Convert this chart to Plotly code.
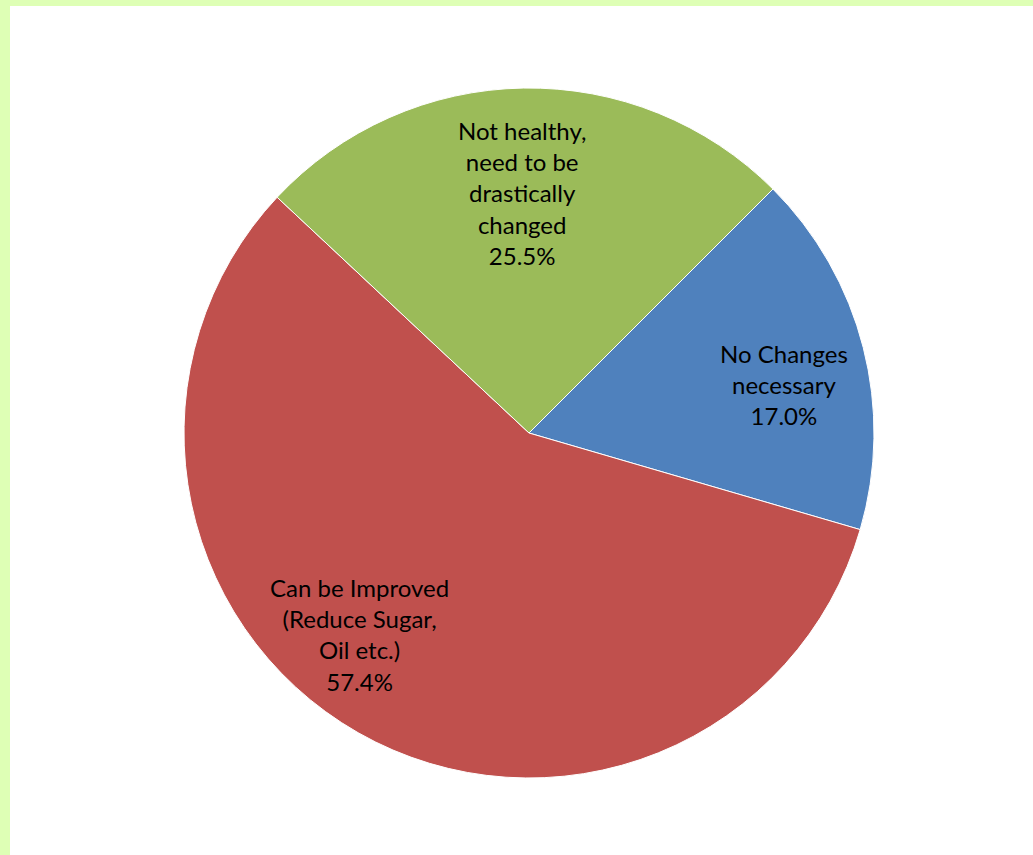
import math
import plotly.graph_objects as go

labels = ["No Changes<br>necessary", "Can be Improved<br>(Reduce Sugar,<br>Oil etc.)", "Not healthy,<br>need to be<br>drastically<br>changed"]
values = [17.0, 57.4, 25.5]
colors = ["#4F81BD", "#C0504D", "#9BBB59"]

W, H = 1033, 855
cx, cy, r = 529, 433, 345
rotation = 45
# label placement tweaks (fraction of radius, angular shift in degrees)
label_rad = [0.753, 0.763, 0.696]
label_shift = [-3.5, -10.4, 0.8]

fig = go.Figure(go.Pie(
    labels=labels,
    values=values,
    sort=False,
    direction="clockwise",
    rotation=rotation,
    marker=dict(colors=colors, line=dict(color="white", width=1)),
    textinfo="none",
    hoverinfo="skip",
    showlegend=False,
    domain=dict(x=[(cx - r) / W, (cx + r) / W], y=[1 - (cy + r) / H, 1 - (cy - r) / H]),
))

total = sum(values)
annotations = []
cum = 0.0
for lab, v, fr, sh in zip(labels, values, label_rad, label_shift):
    mid_cw = rotation + (cum + v / 2) / total * 360
    cum += v
    ang = math.radians(90 - mid_cw + sh)
    px = cx + fr * r * math.cos(ang)
    py = cy - fr * r * math.sin(ang)
    annotations.append(dict(
        x=px / W, y=1 - py / H, xref="paper", yref="paper",
        text=f"{lab}<br>{v / total * 100 if False else v:.1f}%",
        showarrow=False, xanchor="center", yanchor="middle",
        font=dict(family="Lato", size=24, color="black"),
    ))

fig.update_layout(
    width=W, height=H,
    margin=dict(l=0, r=0, t=0, b=0),
    paper_bgcolor="white",
    plot_bgcolor="white",
    annotations=annotations,
    shapes=[
        dict(type="rect", xref="paper", yref="paper", x0=0, x1=10 / W, y0=0, y1=1,
             fillcolor="#DEFFB5", line=dict(width=0), layer="below"),
        dict(type="rect", xref="paper", yref="paper", x0=0, x1=1, y0=1 - 6 / H, y1=1,
             fillcolor="#DEFFB5", line=dict(width=0), layer="below"),
    ],
)

fig.write_html("out.html")
